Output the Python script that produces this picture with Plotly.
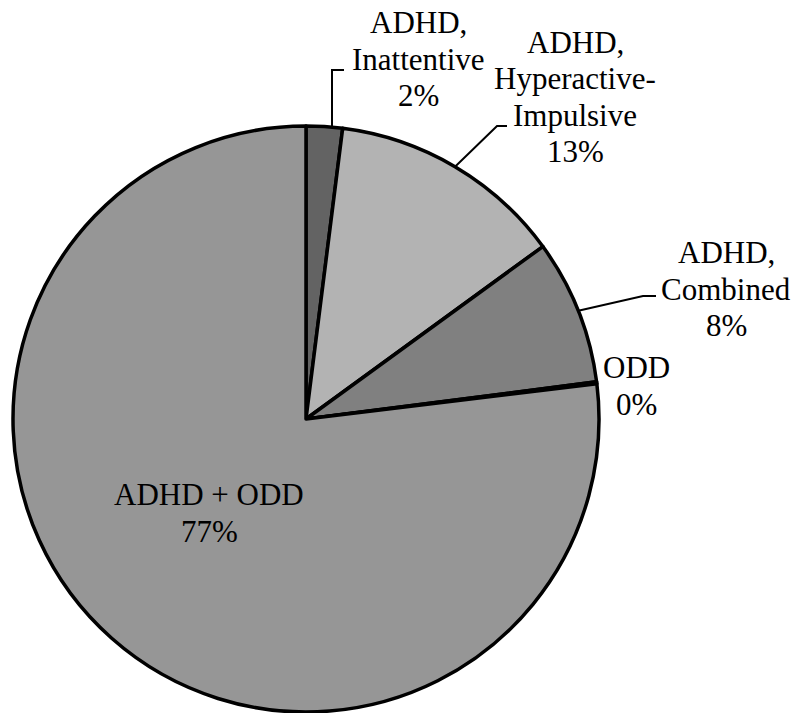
import math
import plotly.graph_objects as go

# Diagnosis groups and their shares of the sample (%)
categories = ["ADHD,<br>Inattentive", "ADHD,<br>Hyperactive-<br>Impulsive",
              "ADHD,<br>Combined", "ODD", "ADHD + ODD"]
shares = [2, 13, 8, 0.1, 77]
fills = ["#636363", "#b3b3b3", "#808080", "#8c8c8c", "#969696"]

W, H = 799, 713
CX, CY, R = 306, 419, 293  # pie centre and radius in pixels (from top-left)

fig = go.Figure(go.Pie(
    labels=categories,
    values=shares,
    sort=False,
    direction="clockwise",
    rotation=0,
    marker=dict(colors=fills, line=dict(color="black", width=3.5)),
    textinfo="none",
    hoverinfo="label+percent",
    showlegend=False,
    domain=dict(x=[(CX - R) / W, (CX + R) / W],
                y=[(H - CY - R) / H, (H - CY + R) / H]),
))

total = sum(shares)


def px(x, y):
    return x / W, (H - y) / H


def arc_point(i):
    """Pixel point on the rim at the middle of slice i."""
    before = sum(shares[:i])
    theta = 2 * math.pi * (before + shares[i] / 2) / total
    return CX + R * math.sin(theta), CY - R * math.cos(theta)


# label centre x, first-line baseline, plus leader elbow and end
LINE_GAP = 36.5
label_layout = [
    dict(x=418, base=33, elbow=(332, 70), end=(344, 70)),
    dict(x=575, base=52.5, elbow=(497, 126), end=(507, 126)),
    dict(x=726, base=263, elbow=(643, 296), end=(656, 296)),
    dict(x=636, base=378, elbow=None, end=None),
    dict(x=209, base=505, elbow=None, end=None),
]

FONT_SIZE = 31
font = dict(family="Liberation Serif", size=FONT_SIZE, color="black")

annotations = []
shapes = []
for i, (name, lay) in enumerate(zip(categories, label_layout)):
    pct = round(shares[i] / total * 100)
    lines = name.split("<br>") + [f"{pct}%"]
    for k, line in enumerate(lines):
        baseline = lay["base"] + k * LINE_GAP
        x, y = px(lay["x"], baseline - 0.33 * FONT_SIZE)
        annotations.append(dict(
            x=x, y=y, xref="paper", yref="paper",
            text=line, showarrow=False,
            xanchor="center", yanchor="middle", align="center", font=font,
        ))
    if lay["elbow"]:
        ax, ay = arc_point(i)
        if i == 0:
            ax = lay["elbow"][0]
            ay = CY - math.sqrt(R * R - (ax - CX) ** 2)
        pts = [px(ax, ay), px(*lay["elbow"]), px(*lay["end"])]
        path = "M " + " L ".join(f"{a},{b}" for a, b in pts)
        shapes.append(dict(type="path", path=path, xref="paper", yref="paper",
                           line=dict(color="black", width=2)))

fig.update_layout(
    width=W, height=H,
    margin=dict(l=0, r=0, t=0, b=0),
    paper_bgcolor="white", plot_bgcolor="white",
    font=dict(family="Liberation Serif"),
    annotations=annotations,
    shapes=shapes,
)

fig.write_html("out.html")
